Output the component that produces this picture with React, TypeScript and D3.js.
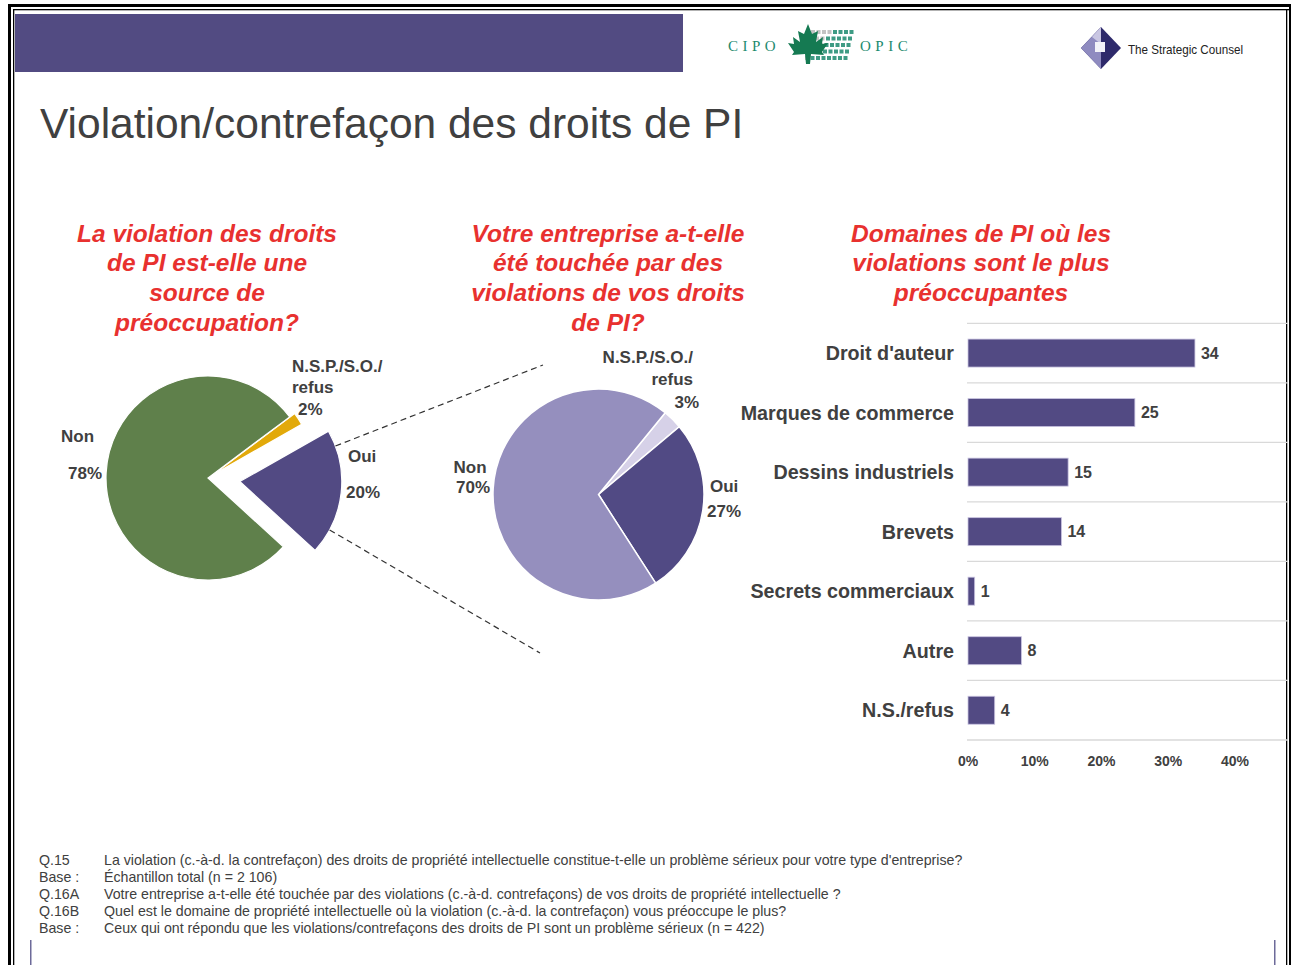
import React from "react";
import * as d3 from "d3";

// ---------- DATA ----------
const pie1Labels = ["N.S.P./S.O./refus", "Oui", "Non"];
const pie1Values = [2, 20, 78];
const pie2Labels = ["N.S.P./S.O./refus", "Oui", "Non"];
const pie2Values = [3, 27, 70];
const barCategories = [
  "Droit d'auteur",
  "Marques de commerce",
  "Dessins industriels",
  "Brevets",
  "Secrets commerciaux",
  "Autre",
  "N.S./refus",
];
const barValues = [34, 25, 15, 14, 1, 8, 4];
const xTicks = [0, 10, 20, 30, 40];
const footnotes: [string, string][] = [
  ["Q.15", "La violation (c.-à-d. la contrefaçon) des droits de propriété intellectuelle constitue-t-elle un problème sérieux pour votre type d'entreprise?"],
  ["Base :", "Échantillon total (n = 2 106)"],
  ["Q.16A", "Votre entreprise a-t-elle été touchée par des violations (c.-à-d. contrefaçons) de vos droits de propriété intellectuelle ?"],
  ["Q.16B", "Quel est le domaine de propriété intellectuelle où la violation (c.-à-d. la contrefaçon) vous préoccupe le plus?"],
  ["Base :", "Ceux qui ont répondu que les violations/contrefaçons des droits de PI sont un problème sérieux (n = 422)"],
];
const heading1 = ["La violation des droits", "de PI est-elle une", "source de", "préoccupation?"];
const heading2 = ["Votre entreprise a-t-elle", "été touchée par des", "violations de vos droits", "de PI?"];
const heading3 = ["Domaines de PI où les", "violations sont le plus", "préoccupantes"];

const FONT = "'Liberation Sans', Arial, Helvetica, sans-serif";
const TXT = "#404040";
const RED = "#e8312f";
const PURPLE = "#524a83";

const deg = (a: number) => (a * Math.PI) / 180;

export default function App() {
  // ---- Pie 1 ----
  const c1 = { x: 208, y: 478 };
  const r1 = 102;
  const pie1Colors = ["#e2a90a", PURPLE, "#5f804b"];
  const pie1Explode = [6, 32, 0];
  const p1 = d3.pie<number>().sort(null).startAngle(deg(53.2)).endAngle(deg(53.2) + Math.PI * 2)(pie1Values);
  const arc1 = d3.arc<d3.PieArcDatum<number>>().innerRadius(0).outerRadius(r1);
  const off = (d: d3.PieArcDatum<number>, e: number) => {
    const m = (d.startAngle + d.endAngle) / 2;
    return [Math.sin(m) * e, -Math.cos(m) * e];
  };
  const ouiOff = off(p1[1], pie1Explode[1]);
  const apex = { x: c1.x + ouiOff[0], y: c1.y + ouiOff[1] };

  // ---- Pie 2 ----
  const c2 = { x: 598.5, y: 494.5 };
  const r2 = 105.5;
  const pie2Colors = ["#d6d1e8", "#514a84", "#958fbe"];
  const p2 = d3.pie<number>().sort(null).startAngle(deg(39.2)).endAngle(deg(39.2) + Math.PI * 2)(pie2Values);
  const arc2 = d3.arc<d3.PieArcDatum<number>>().innerRadius(0).outerRadius(r2);

  // connectors
  const a1 = deg(69.6), a2 = deg(118.3);
  const conn = [
    { x1: apex.x + Math.sin(a1) * r1, y1: apex.y - Math.cos(a1) * r1, x2: c2.x - 55.5, y2: c2.y - 129.5 },
    { x1: apex.x + Math.sin(a2) * r1, y1: apex.y - Math.cos(a2) * r1, x2: c2.x - 58.5, y2: c2.y + 158.5 },
  ];

  // ---- Bars ----
  const x = d3.scaleLinear().domain([0, 40]).range([968, 1235]);
  const y = d3.scaleBand<string>().domain(barCategories).range([323.3, 740]).paddingInner(0.53).paddingOuter(0.265);
  const step = y.step();
  const gridYs = d3.range(barCategories.length + 1).map((i) => 323.3 + i * step);

  return (
    <svg width={1291} height={965} style={{ position: "absolute", left: 0, top: 0, background: "#fff" }} fontFamily={FONT}>
      <rect x={0} y={0} width={1291} height={965} fill="#fff" />
      {/* page borders */}
      <rect x={8} y={4} width={1283} height={3} fill="#000" />
      <rect x={8} y={4} width={3} height={961} fill="#000" />
      <rect x={13} y={9} width={1278} height={1.3} fill="#000" />
      <rect x={13} y={9} width={1.3} height={956} fill="#000" />
      <rect x={1286} y={9} width={1.3} height={956} fill="#000" />
      <rect x={1289} y={4} width={2} height={961} fill="#000" />
      <rect x={30} y={940} width={1.5} height={25} fill="#6d6a99" />
      <rect x={1274} y={940} width={1.5} height={25} fill="#6d6a99" />

      {/* banner */}
      <rect x={15} y={14} width={668} height={58} fill="#524b82" />

      {/* CIPO logo */}
      <text x={728} y={51} fontFamily="'Liberation Serif', 'DejaVu Serif', serif" fontSize={15} letterSpacing={4.5} fill="#1c8a6e">CIPO</text>
      <text x={860} y={51} fontFamily="'Liberation Serif', 'DejaVu Serif', serif" fontSize={15} letterSpacing={4.5} fill="#1c8a6e">OPIC</text>
      <g>
        {d3.range(5).map((row) =>
          d3.range(8).map((col) => (
            <rect key={`g${row}-${col}`} x={811 + col * 5.5 - row * 1.5} y={30 + row * 6.5} width={4} height={4}
              fill={col + row * 0.7 > 3.5 ? "#1c8a6e" : "#b9b9b9"} opacity={0.85} />
          ))
        )}
        <path
          d="M808,24 L812,34 L818,31 L816,42 L823,37 L822,44 L828,43 L822,52 L824,55 L811,54 L810,64 L806,64 L805,54 L792,55 L794,52 L788,43 L794,44 L793,37 L800,42 L798,31 L804,34 Z"
          fill="#157a52"
        />
      </g>

      {/* Strategic Counsel logo */}
      <polygon points="1101,27 1121,48 1101,69 1081,48" fill="#2e2a6b" />
      <polygon points="1101,27 1101,69 1081,48" fill="#8f8bc0" />
      <polygon points="1101,27 1092,37 1101,44" fill="#c9c6e2" />
      <rect x={1095} y={42} width={10} height={10} fill="#f2f2f8" />
      <text x={1128} y={54} fontSize={13} fill="#222" textLength={115} lengthAdjust="spacingAndGlyphs">The Strategic Counsel</text>

      {/* title */}
      <text x={40} y={138} fontSize={42.5} fill={TXT}>Violation/contrefaçon des droits de PI</text>

      {/* red headings */}
      {[
        { lines: heading1, cx: 207 },
        { lines: heading2, cx: 608 },
        { lines: heading3, cx: 981 },
      ].map((h, hi) => (
        <text key={hi} textAnchor="middle" fontSize={24.5} fontWeight="bold" fontStyle="italic" fill={RED}>
          {h.lines.map((l, i) => (
            <tspan key={i} x={h.cx} y={241.5 + i * 29.7}>{l}</tspan>
          ))}
        </text>
      ))}

      {/* pie 1 */}
      <g>
        {p1.map((d, i) => {
          const o = off(d, pie1Explode[i]);
          return (
            <path key={i} d={arc1(d) as string} transform={`translate(${c1.x + o[0]},${c1.y + o[1]})`}
              fill={pie1Colors[i]} stroke="#fff" strokeWidth={1.2} />
          );
        })}
      </g>
      <g fontSize={17} fontWeight="bold" fill={TXT}>
        <text x={61} y={442}>Non</text>
        <text x={68} y={479}>78%</text>
        <text x={292} y={372}>N.S.P./S.O./</text>
        <text x={292} y={393}>refus</text>
        <text x={298} y={415}>2%</text>
        <text x={348} y={462}>Oui</text>
        <text x={346} y={498}>20%</text>
      </g>

      {/* connectors */}
      {conn.map((c, i) => (
        <line key={i} x1={c.x1} y1={c.y1} x2={c.x2} y2={c.y2} stroke="#333" strokeWidth={1.2} strokeDasharray="6,4" />
      ))}

      {/* pie 2 */}
      <g transform={`translate(${c2.x},${c2.y})`}>
        {p2.map((d, i) => (
          <path key={i} d={arc2(d) as string} fill={pie2Colors[i]} stroke="#fff" strokeWidth={1.5} />
        ))}
      </g>
      <g fontSize={17} fontWeight="bold" fill={TXT}>
        <text x={693} y={363} textAnchor="end">N.S.P./S.O./</text>
        <text x={693} y={385} textAnchor="end">refus</text>
        <text x={699} y={408} textAnchor="end">3%</text>
        <text x={470} y={473} textAnchor="middle">Non</text>
        <text x={473} y={493} textAnchor="middle">70%</text>
        <text x={710} y={492}>Oui</text>
        <text x={707} y={517}>27%</text>
      </g>

      {/* bar chart */}
      {gridYs.map((gy, i) => (
        <line key={i} x1={967} x2={1288} y1={gy} y2={gy} stroke="#d9d9d9" strokeWidth={1.3} />
      ))}
      {barCategories.map((c, i) => {
        const by = y(c) as number;
        return (
          <g key={c}>
            <rect x={x(0)} y={by} width={x(barValues[i]) - x(0)} height={y.bandwidth()} fill={PURPLE} stroke="#c9c3e0" strokeWidth={0.8} />
            <text x={954} y={by + y.bandwidth() / 2 + 7} textAnchor="end" fontSize={19.7} fontWeight="bold" fill={TXT}>{c}</text>
            <text x={x(barValues[i]) + 6} y={by + y.bandwidth() / 2 + 5.5} fontSize={16} fontWeight="bold" fill={TXT}>{barValues[i]}</text>
          </g>
        );
      })}
      {xTicks.map((t) => (
        <text key={t} x={x(t)} y={766} textAnchor="middle" fontSize={14} fontWeight="bold" fill={TXT}>{t}%</text>
      ))}

      {/* footnotes */}
      <g fontSize={14.2} fill={TXT}>
        {footnotes.map((f, i) => (
          <g key={i}>
            <text x={39} y={865 + i * 17}>{f[0]}</text>
            <text x={104} y={865 + i * 17}>{f[1]}</text>
          </g>
        ))}
      </g>
    </svg>
  );
}
